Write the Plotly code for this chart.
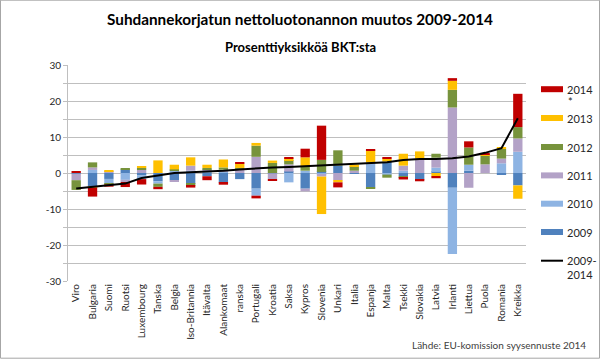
import plotly.graph_objects as go

categories = ["Viro", "Bulgaria", "Suomi", "Ruotsi", "Luxembourg", "Tanska", "Belgia",
              "Iso-Britannia", "Itävalta", "Alankomaat", "ranska", "Portugali", "Kroatia",
              "Saksa", "Kypros", "Slovenia", "Unkari", "Italia", "Espanja", "Malta", "Tsekki",
              "Slovakia", "Latvia", "Irlanti", "Liettua", "Puola", "Romania", "Kreikka"]

v2009 = [-0.2, -3.7, -1.65, 1.0, -0.7, -2.3, -2.0, -3.05, -0.9, -2.7, -1.7, -4.35, -0.1, 0.4,
         -4.35, 0.3, 2.05, -0.1, -4.0, 3.15, -0.9, -1.85, 0.3, -4.1, 0.65, 0.0, -0.35, -3.45]
v2010 = [0.0, 0.85, -1.4, -1.9, -1.0, -0.65, 0.7, 0.65, 0.3, 0.45, 0.0, -1.95, 0.0, -2.6,
         0.65, -0.3, 0.0, 0.0, 2.9, -0.45, 0.65, 0.0, 1.2, -18.4, 1.65, 0.0, 2.7, 5.9]
v2011 = [-1.8, 0.7, 0.35, -0.6, 0.85, 0.0, -0.3, 1.4, 0.7, 0.45, 0.9, 4.5, -1.6, 2.0,
         -0.75, -0.7, -2.05, 0.65, 0.0, 0.0, 1.4, 4.0, 2.75, 18.2, -4.1, 2.4, 1.3, 3.7]
v2012 = [-2.7, 1.4, -0.15, 0.3, 0.55, -0.9, 0.3, -0.45, 0.4, 0.65, 0.5, 3.1, 2.8, 1.2,
         1.2, 3.35, 4.25, 1.2, -0.3, -0.85, -0.45, 0.0, 1.1, 4.9, 4.8, 2.4, 2.7, 3.15]
v2013 = [0.0, -0.35, 0.3, 0.0, 0.35, 3.5, 1.3, 2.3, 0.9, 2.2, 1.2, 0.75, 0.65, 0.5,
         2.5, -10.4, -0.55, 0.55, 3.4, 0.8, 3.3, 2.0, -0.9, 2.5, 0.0, 0.3, 0.35, -3.7]
v2014 = [0.3, -2.5, -0.6, -1.4, -1.5, -0.65, 0.0, -0.55, -1.1, -0.55, 0.3, -0.75, -0.4, 0.35,
         2.4, 9.5, -1.4, 0.0, 0.35, 0.3, -0.45, -0.45, -0.55, 0.75, 1.7, 0.35, 0.0, 9.25]
total = [-4.3, -3.9, -3.35, -2.95, -1.4, -0.7, 0.0, 0.2, 0.35, 0.65, 1.0, 1.3, 1.5, 1.65,
         1.85, 2.0, 2.2, 2.5, 2.6, 3.0, 3.6, 3.9, 3.9, 4.1, 4.6, 5.6, 6.9, 15.2]

y_ticks = [30, 20, 10, 0, -10, -20, -30]

series = [("2009", v2009, "#4F81BD"), ("2010", v2010, "#8EB4E3"), ("2011", v2011, "#B3A2C7"),
          ("2012", v2012, "#77933C"), ("2013", v2013, "#FFC000"), ("2014*", v2014, "#C00000")]

FONT = "Lato"
fig = go.Figure()
for name, vals, col in series:
    fig.add_trace(go.Bar(x=categories, y=vals, name=name, marker=dict(color=col, line=dict(width=0))))
fig.add_trace(go.Scatter(x=categories, y=total, name="2009-2014", mode="lines",
                         line=dict(color="black", width=2)))

# plot area geometry (pixels)
L, R, T, B = 68, 526, 65.3, 281.3
W, H = R - L, B - T
def px(x):
    return (x - L) / W
def py(y):
    return (B - y) / H

shapes = [dict(type="rect", xref="paper", yref="paper", x0=px(0.5), x1=px(599.5),
               y0=py(0.5), y1=py(358.5), line=dict(color="#A6A6A6", width=1), layer="below")]
annotations = [
    dict(text="<b>Suhdannekorjatun nettoluotonannon muutos 2009-2014</b>", x=px(300), y=py(19),
         xref="paper", yref="paper", showarrow=False, font=dict(size=15.3, color="black", family=FONT),
         xanchor="center", yanchor="middle"),
    dict(text="<b>Prosenttiyksikköä BKT:sta</b>", x=px(300), y=py(47),
         xref="paper", yref="paper", showarrow=False, font=dict(size=13, color="black", family=FONT),
         xanchor="center", yanchor="middle"),
    dict(text="Lähde: EU-komission syysennuste 2014", x=px(588), y=py(345),
         xref="paper", yref="paper", showarrow=False, font=dict(size=10, color="#404040", family=FONT),
         xanchor="right", yanchor="middle"),
]

# legend (manual)
leg_items = [("2014", "#C00000", 89.5, "bar"), ("2013", "#FFC000", 118.3, "bar"),
             ("2012", "#77933C", 147.3, "bar"), ("2011", "#B3A2C7", 175.7, "bar"),
             ("2010", "#8EB4E3", 204.0, "bar"), ("2009", "#4F81BD", 232.3, "bar"),
             ("2009-", "black", 261.0, "line")]
for label, col, yy, kind in leg_items:
    if kind == "bar":
        shapes.append(dict(type="rect", xref="paper", yref="paper", x0=px(541), x1=px(563),
                           y0=py(yy + 3), y1=py(yy - 3), fillcolor=col, line=dict(width=0)))
    else:
        shapes.append(dict(type="line", xref="paper", yref="paper", x0=px(541), x1=px(563),
                           y0=py(yy), y1=py(yy), line=dict(color=col, width=2)))
    annotations.append(dict(text=label, x=px(565), y=py(yy), xref="paper", yref="paper",
                            showarrow=False, xanchor="left", yanchor="middle",
                            font=dict(size=11, color="#262626", family=FONT)))
annotations.append(dict(text="*", x=px(566), y=py(102), xref="paper", yref="paper",
                        showarrow=False, xanchor="left", yanchor="middle",
                        font=dict(size=11, color="#262626", family=FONT)))
annotations.append(dict(text="2014", x=px(565), y=py(275), xref="paper", yref="paper",
                        showarrow=False, xanchor="left", yanchor="middle",
                        font=dict(size=11, color="#262626", family=FONT)))

fig.update_layout(
    width=600, height=359,
    margin=dict(l=L, r=600 - R, t=T, b=359 - B),
    barmode="relative", bargap=0.43,
    paper_bgcolor="white", plot_bgcolor="white",
    showlegend=False,
    font=dict(family=FONT, color="#262626"),
    shapes=shapes, annotations=annotations,
    xaxis=dict(tickangle=-90, tickfont=dict(size=10, color="#262626", family=FONT),
               showline=False, ticks="", showgrid=False, fixedrange=True),
    yaxis=dict(range=[-30, 30], tickvals=y_ticks, ticktext=[str(t) for t in y_ticks],
               tickfont=dict(size=10, color="#262626", family=FONT),
               showgrid=True, gridcolor="#BFBFBF", gridwidth=1, zeroline=False,
               showline=True, linecolor="#BFBFBF", linewidth=1,
               ticks="outside", ticklen=4, tickcolor="#BFBFBF",
               minor=dict(dtick=5, tick0=0, showgrid=True, gridcolor="#BFBFBF", ticks="outside",
                          ticklen=4, tickcolor="#BFBFBF"),
               fixedrange=True),
)

fig.write_html("out.html", config={"displayModeBar": False},
               post_script="document.body.style.margin='0';document.body.style.overflow='hidden';")
